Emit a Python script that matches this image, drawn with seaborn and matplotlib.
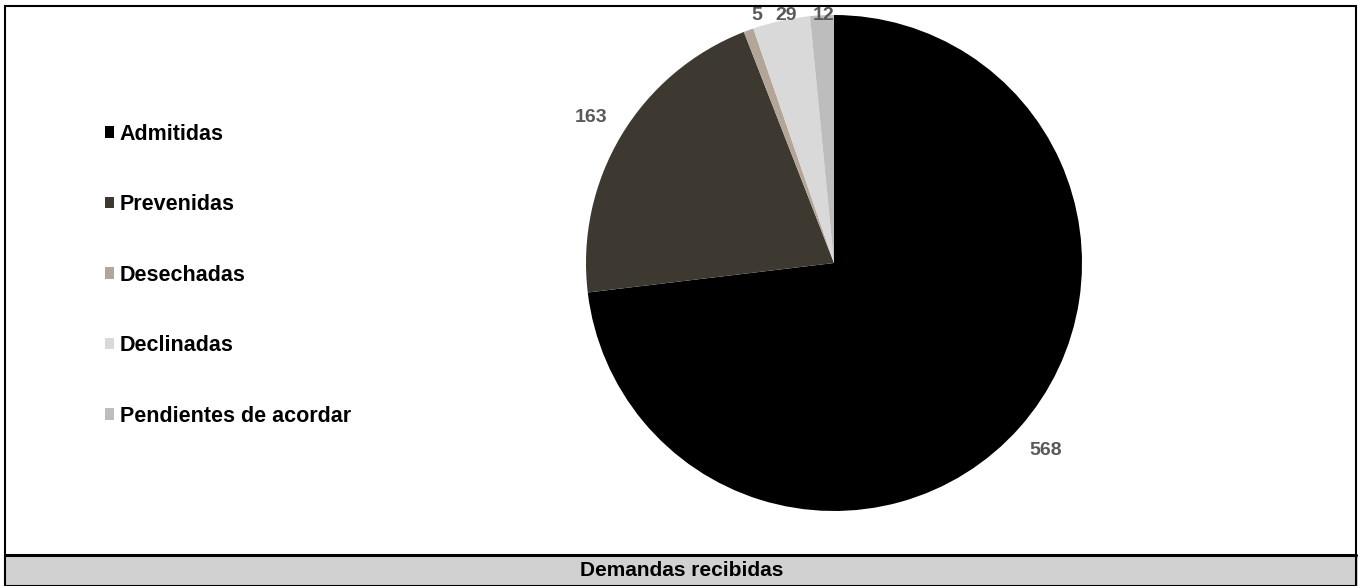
import numpy as np
import matplotlib.pyplot as plt
import seaborn as sns
from matplotlib.patches import Rectangle, Patch
from matplotlib.lines import Line2D

# Data
categorias = ['Admitidas', 'Prevenidas', 'Desechadas', 'Declinadas', 'Pendientes de acordar']
valores = [568, 163, 5, 29, 12]
colores = ['#000000', '#3d3930', '#b3a597', '#d9d9d9', '#bdbdbd']
titulo = 'Demandas recibidas'

sns.set_theme(style='white')
plt.rcParams['font.family'] = ['Liberation Sans', 'DejaVu Sans']
palette = sns.color_palette(colores)

W, H = 1363, 586
fig = plt.figure(figsize=(W / 100, H / 100), dpi=100)

# pie axes: centre (834, 263), radius 248 px
cx, cy, r = 834, 263, 248
ax = fig.add_axes([(cx - r) / W, (H - cy - r) / H, 2 * r / W, 2 * r / H])
wedges, texts = ax.pie(valores, colors=palette, startangle=90, counterclock=False,
                       labels=[str(v) for v in valores], labeldistance=1.14,
                       wedgeprops=dict(linewidth=0, edgecolor='none'),
                       textprops=dict(fontsize=14, fontweight='bold', color='#595959'))
ax.set_xlim(-1, 1)
ax.set_ylim(-1, 1)
ax.set_aspect('equal')
ax.axis('off')

# keep labels inside the plot area at the top (like the original)
ytop = (cy - 16) / r
for w, t in zip(wedges, texts):
    t.set_ha('center')
    t.set_va('center')
    x, y = t.get_position()
    if y > ytop:
        ang = np.deg2rad((w.theta1 + w.theta2) / 2)
        t.set_position((0.9 * np.cos(ang), ytop))

# legend
handles = [Patch(facecolor=c, edgecolor='none') for c in palette]
fig.legend(handles, categorias, loc='upper left', bbox_to_anchor=(94 / W, 1 - 113 / H),
           frameon=False, prop=dict(size=15.5, weight='bold'), labelcolor='black',
           handlelength=0.45, handleheight=0.45, handletextpad=0.25,
           labelspacing=2.3, borderpad=0)

# bottom title band
fig.add_artist(Rectangle((5 / W, 0), (W - 10) / W, 30 / H, transform=fig.transFigure,
                         facecolor='#d1d1d1', edgecolor='none'))
fig.add_artist(Line2D([5 / W, (W - 7) / W], [31 / H, 31 / H], transform=fig.transFigure,
                      color='black', lw=2.2))
fig.text(0.5, 15 / H, titulo, ha='center', va='center', fontsize=15, fontweight='bold',
         color='black')

# outer border
fig.add_artist(Rectangle((5 / W, 0), (W - 12) / W, (H - 6) / H, transform=fig.transFigure,
                         facecolor='none', edgecolor='black', lw=1.5))

fig.savefig('out.png', dpi=100)
